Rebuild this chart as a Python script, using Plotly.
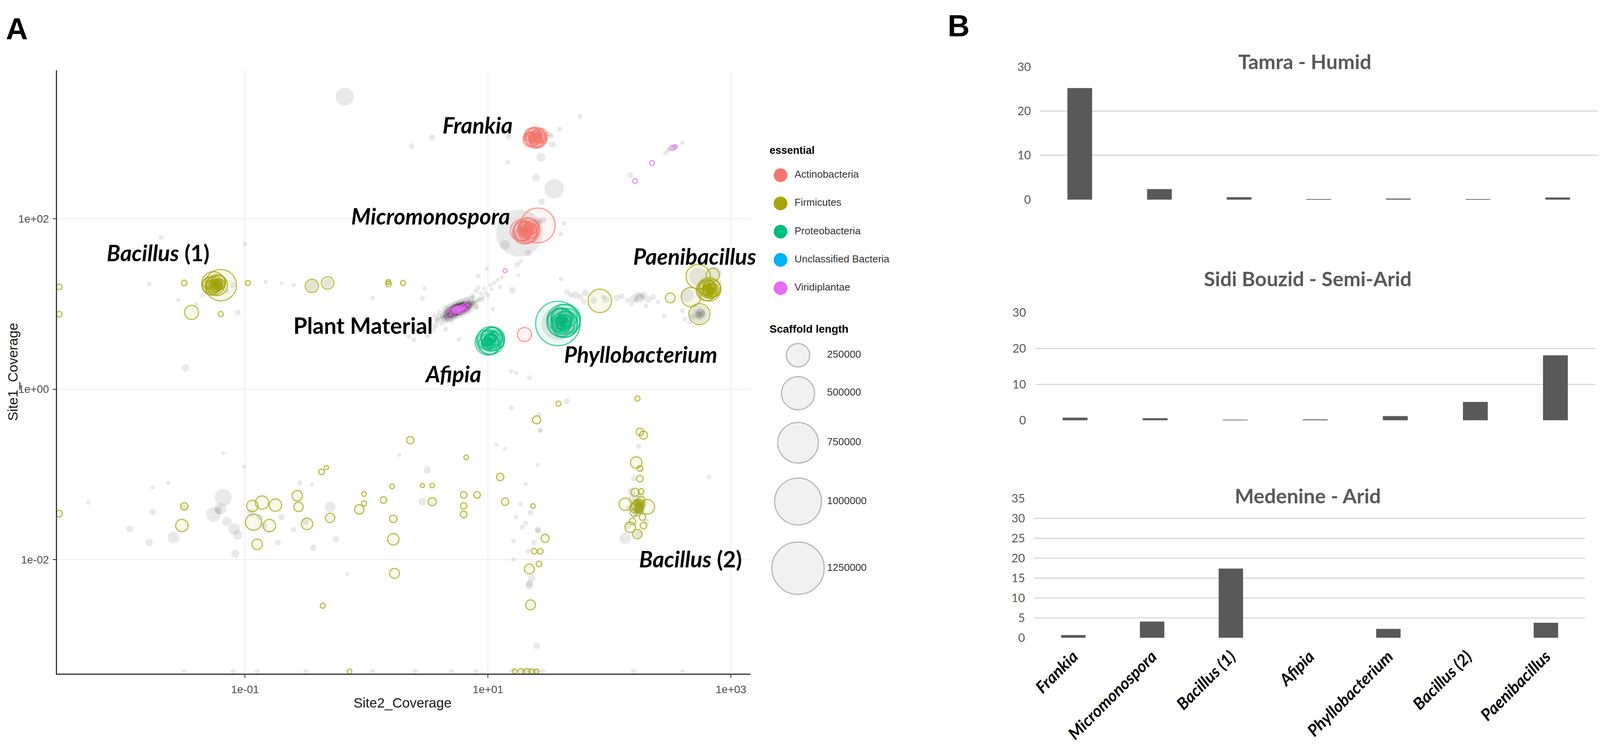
import numpy as np
import plotly.graph_objects as go

W, H = 4563, 1936

# ---- panel A: scaffolds as (log10 Site2_Coverage, log10 Site1_Coverage, scaffold length)
gray_pts = [
    (-0.18, 3.43, 150000), (1.76, 3.20, 12000), (0.54, 2.95, 20000), (0.37, 2.85, 15000),
    (1.17, 2.96, 15000), (1.16, 2.66, 12000), (1.435, 2.72, 35000), (1.53, 2.87, 20000),
    (1.59, 3.05, 12000), (1.395, 2.48, 25000), (1.545, 2.35, 170000), (1.44, 2.20, 20000),
    (2.17, 2.51, 15000), (2.46, 2.77, 10000), (2.60, 2.89, 10000),
    (1.39, 2.95, 60000), (1.40, 2.96, 40000), (1.38, 2.94, 30000), (1.41, 2.95, 20000),
    (1.45, 2.98, 25000), (1.50, 2.99, 15000), (1.40, 2.90, 100000), (1.52, 2.97, 12000),
    (1.39, 2.95, 15000), (1.40, 2.94, 10000),
    (2.50, 2.82, 15000), (2.53, 2.84, 12000), (2.55, 2.85, 10000), (2.48, 2.80, 10000),
    (1.26, 1.83, 1000000), (1.30, 1.87, 60000), (1.32, 1.86, 40000), (1.33, 1.88, 30000),
    (1.31, 1.85, 25000), (1.34, 1.87, 20000), (1.40, 1.95, 30000), (1.45, 1.98, 25000),
    (1.38, 1.93, 15000), (1.14, 1.69, 40000), (1.625, 1.95, 12000), (1.60, 1.82, 12000),
    (1.33, 1.60, 20000), (1.24, 1.46, 15000), (1.27, 1.50, 10000), (1.28, 1.88, 15000),
    (1.43, 1.97, 12000),
    (0.99, 1.41, 8000), (0.92, 1.33, 10000), (1.08, 1.28, 8000), (1.115, 1.31, 8000),
    (1.20, 1.16, 20000), (1.25, 1.335, 8000), (1.60, 1.29, 10000), (1.02, 1.22, 8000),
    (0.97, 1.18, 8000), (0.94, 1.12, 8000), (0.90, 1.15, 10000), (1.05, 1.25, 8000),
    (0.88, 1.08, 8000), (1.10, 1.20, 8000), (1.00, 1.10, 10000), (0.96, 1.08, 8000),
    (0.93, 1.06, 10000), (0.98, 1.13, 8000), (1.03, 1.17, 8000),
    (0.60, 0.85, 15000), (0.63, 0.86, 20000), (0.65, 0.88, 20000), (0.67, 0.87, 25000),
    (0.68, 0.90, 20000), (0.70, 0.89, 25000), (0.71, 0.92, 20000), (0.72, 0.90, 25000),
    (0.73, 0.94, 20000), (0.74, 0.92, 25000), (0.75, 0.95, 20000), (0.76, 0.93, 25000),
    (0.77, 0.96, 20000), (0.78, 0.94, 25000), (0.79, 0.97, 20000), (0.80, 0.95, 25000),
    (0.81, 0.98, 20000), (0.82, 0.96, 20000), (0.83, 0.99, 15000), (0.85, 0.98, 15000),
    (0.86, 1.00, 15000), (0.88, 1.01, 12000), (0.90, 1.02, 12000), (0.66, 0.91, 15000),
    (0.69, 0.86, 15000), (0.74, 0.97, 15000), (0.77, 0.91, 20000), (0.80, 1.00, 15000),
    (0.84, 0.95, 15000), (0.72, 0.96, 15000), (0.75, 0.92, 30000), (0.78, 0.96, 30000),
    (0.71, 0.89, 30000), (0.82, 0.98, 25000), (0.64, 0.84, 15000), (0.66, 0.86, 20000),
    (0.69, 0.88, 30000), (0.70, 0.91, 25000), (0.73, 0.91, 30000), (0.74, 0.94, 30000),
    (0.76, 0.96, 25000), (0.77, 0.93, 30000), (0.79, 0.95, 30000), (0.81, 0.96, 25000),
    (0.83, 0.97, 20000), (0.84, 1.00, 15000), (0.87, 0.99, 15000), (0.72, 0.92, 40000),
    (0.76, 0.94, 40000), (0.80, 0.97, 35000), (0.68, 0.89, 20000), (0.62, 0.83, 12000),
    (0.58, 0.80, 12000), (0.89, 1.03, 10000), (0.92, 1.04, 10000), (0.75, 0.90, 15000),
    (0.78, 0.99, 15000), (0.70, 0.93, 15000), (0.82, 0.94, 15000),
    (0.66, 0.88, 35000), (0.68, 0.91, 40000), (0.70, 0.90, 45000), (0.71, 0.93, 40000),
    (0.73, 0.93, 45000), (0.73, 0.90, 40000), (0.75, 0.94, 45000), (0.75, 0.97, 35000),
    (0.77, 0.94, 45000), (0.77, 0.97, 35000), (0.79, 0.94, 40000), (0.79, 0.98, 35000),
    (0.81, 0.95, 40000), (0.81, 0.99, 30000), (0.83, 0.98, 35000), (0.85, 1.00, 30000),
    (0.72, 0.88, 35000), (0.74, 0.91, 40000), (0.76, 0.92, 45000), (0.78, 0.93, 40000),
    (0.80, 0.96, 40000), (0.82, 0.97, 35000), (0.84, 0.98, 30000), (0.70, 0.87, 30000),
    (0.67, 0.85, 30000), (0.86, 1.02, 25000), (0.76, 0.97, 35000), (0.72, 0.95, 30000),
    (0.78, 0.92, 35000), (0.80, 0.98, 30000),
    (0.65, 0.83, 30000), (0.65, 0.93, 30000), (0.675, 0.84, 35000), (0.675, 0.94, 35000),
    (0.70, 0.855, 40000), (0.70, 0.96, 40000), (0.725, 0.87, 40000), (0.725, 0.975, 40000),
    (0.75, 0.885, 40000), (0.75, 0.99, 40000), (0.775, 0.90, 40000), (0.775, 1.005, 40000),
    (0.80, 0.915, 40000), (0.80, 1.02, 35000), (0.825, 0.93, 35000), (0.825, 1.035, 30000),
    (0.85, 0.945, 30000), (0.85, 1.05, 25000), (0.70, 0.908, 50000), (0.75, 0.938, 60000),
    (0.80, 0.968, 50000), (0.725, 0.92, 50000), (0.775, 0.95, 50000), (0.74, 0.93, 60000),
    (0.76, 0.945, 60000),
    (0.46, 1.065, 12000), (0.48, 1.18, 10000), (0.39, 0.58, 10000), (0.43, 0.665, 12000),
    (0.57, 0.745, 15000), (0.65, 0.705, 12000), (0.76, 0.585, 10000), (0.905, 0.97, 12000),
    (0.92, 1.19, 10000), (1.04, 0.94, 10000), (0.87, 1.09, 12000), (0.52, 0.80, 12000),
    (0.55, 0.70, 10000), (0.50, 0.62, 10000), (0.58, 0.82, 12000), (0.62, 0.78, 15000),
    (0.70, 0.80, 12000), (0.95, 1.05, 10000), (0.35, 0.62, 10000), (0.42, 0.75, 10000),
    (0.60, 0.90, 12000), (0.56, 0.86, 10000), (0.90, 0.96, 12000), (0.66, 0.80, 10000),
    (1.02, 0.57, 40000), (1.01, 0.56, 20000), (1.00, 0.55, 15000), (1.03, 0.58, 15000),
    (1.575, 0.77, 500000), (1.60, 0.78, 60000), (1.61, 0.79, 40000), (1.62, 0.80, 30000),
    (1.59, 0.77, 25000), (1.60, 0.80, 15000), (1.63, 0.81, 20000), (1.58, 0.76, 20000),
    (1.72, 1.105, 25000), (1.65, 1.14, 15000), (1.80, 1.13, 20000), (1.79, 1.025, 15000),
    (1.68, 1.10, 12000), (1.76, 1.08, 15000), (1.87, 1.04, 20000), (1.97, 1.05, 20000),
    (2.06, 1.07, 20000), (2.10, 1.09, 15000), (2.20, 1.06, 30000), (2.25, 1.07, 40000),
    (2.28, 1.10, 25000), (2.32, 1.05, 20000), (2.23, 1.11, 15000), (2.15, 1.04, 12000),
    (2.36, 1.08, 15000), (2.40, 1.02, 10000), (2.18, 1.00, 10000), (2.45, 0.86, 10000),
    (2.30, 0.98, 10000), (1.95, 1.08, 10000), (2.26, 1.08, 20000), (2.22, 1.05, 15000),
    (2.74, 0.88, 150000), (2.74, 0.88, 60000), (2.75, 0.89, 40000), (2.73, 0.87, 25000),
    (2.76, 0.89, 15000), (2.74, 0.87, 20000),
    (2.73, 1.32, 150000), (2.87, 1.36, 80000), (2.82, 1.17, 60000), (2.83, 1.16, 40000),
    (2.81, 1.18, 30000), (2.84, 1.19, 20000), (2.80, 1.20, 30000), (2.84, 1.15, 25000),
    (2.64, 1.10, 80000), (2.68, 0.85, 15000), (2.62, 0.82, 10000), (2.66, 0.78, 10000),
    (2.60, 0.92, 12000), (2.90, 1.25, 20000),
    (-1.24, 1.22, 100000), (-1.23, 1.23, 60000), (-1.25, 1.21, 40000), (-1.22, 1.22, 30000),
    (-1.26, 1.23, 25000), (-1.24, 1.24, 20000), (-1.20, 1.23, 20000),
    (-1.69, 1.78, 12000), (-1.79, 1.23, 10000), (-1.00, 1.70, 10000),
    (-1.06, 0.90, 15000), (-1.49, 0.25, 25000), (-0.83, 1.26, 8000), (0.05, 1.07, 10000),
    (-1.35, 1.10, 10000), (-1.15, 1.15, 10000), (-1.10, 1.22, 15000), (-1.55, 1.05, 8000),
    (-1.40, 1.00, 8000), (-0.70, 1.24, 8000), (-0.45, 1.21, 60000), (-0.32, 1.245, 40000),
    (0.18, 1.235, 10000), (-0.60, 1.22, 8000),
    (1.19, -0.22, 12000), (1.65, -0.14, 15000), (1.23, 0.19, 10000), (1.34, 0.135, 10000),
    (1.43, -0.48, 10000), (1.19, 0.21, 10000), (1.42, -0.30, 10000),
    (-1.95, -1.64, 20000), (-1.76, -1.44, 20000), (-1.76, -1.15, 10000), (-1.63, -1.10, 10000),
    (-2.29, -1.33, 8000), (-1.79, -1.80, 25000), (-1.59, -1.74, 60000), (-1.18, -1.27, 130000),
    (-1.26, -1.47, 100000), (-1.09, -1.64, 60000), (-1.06, -1.71, 40000), (-1.08, -1.93, 30000),
    (-0.55, -1.10, 12000), (-0.45, -1.12, 8000), (-0.30, -1.38, 50000), (-0.25, -1.76, 20000),
    (-0.44, -1.86, 20000), (-0.73, -1.80, 15000), (-1.01, -0.91, 8000), (-1.18, -0.75, 8000),
    (-0.16, -2.17, 8000), (0.27, -0.77, 8000), (0.50, -0.95, 25000), (0.46, -1.32, 30000),
    (-1.20, -1.40, 60000), (-1.15, -1.55, 40000), (-0.95, -1.45, 30000), (-0.70, -1.50, 20000),
    (-0.60, -1.65, 15000), (-0.85, -1.60, 25000), (-1.50, -1.38, 15000), (-0.50, -1.55, 25000),
    (-1.22, -1.42, 30000), (-0.88, -1.50, 20000),
    (1.41, -1.65, 20000), (1.34, -2.30, 30000), (1.21, -1.78, 10000), (1.40, -3.01, 20000),
    (1.21, -2.00, 10000), (1.31, -1.11, 8000), (1.41, -0.89, 8000), (1.43, -0.49, 8000),
    (1.14, -0.70, 8000), (1.07, -0.65, 8000), (1.23, -1.50, 10000), (1.31, -1.57, 10000),
    (1.35, -1.45, 15000), (1.28, -1.62, 12000), (1.38, -1.80, 15000), (1.36, -2.22, 25000),
    (1.33, -1.90, 10000), (1.27, -1.35, 10000), (1.34, -2.28, 20000), (1.41, -1.66, 12000),
    (2.24, -0.67, 12000), (2.13, -1.75, 60000), (2.20, -1.30, 60000), (2.25, -1.40, 40000),
    (2.22, -1.45, 30000), (2.28, -1.35, 25000), (2.18, -1.20, 30000), (2.30, -1.55, 20000),
    (2.15, -1.60, 25000), (2.26, -1.25, 20000), (2.82, -1.03, 8000), (2.20, -1.05, 15000),
    (2.27, -0.95, 10000), (2.16, -1.40, 20000), (2.24, -1.70, 25000), (2.24, -1.38, 30000),
    (2.25, -1.36, 20000), (2.23, -1.41, 15000), (2.22, -1.36, 30000), (2.24, -1.32, 25000),
    (2.26, -1.42, 25000), (2.21, -1.40, 20000), (2.23, -1.46, 25000), (2.25, -1.34, 20000),
    (2.27, -1.38, 20000),
    (-1.50, -3.31, 10000), (-1.10, -3.31, 12000), (-0.90, -3.31, 10000), (-0.50, -3.31, 10000),
    (0.05, -3.31, 10000), (0.40, -3.31, 12000), (0.70, -3.31, 10000), (0.90, -3.31, 12000),
    (1.20, -3.31, 20000), (1.30, -3.31, 25000), (1.35, -3.31, 25000), (1.40, -3.31, 20000),
    (1.45, -3.31, 15000), (2.20, -3.31, 12000), (2.60, -3.31, 10000),
]

actino_pts = [
    (1.39, 2.95, 200000), (1.37, 2.96, 150000), (1.41, 2.94, 150000), (1.35, 2.93, 100000),
    (1.43, 2.97, 100000), (1.38, 2.98, 80000), (1.40, 2.92, 80000), (1.36, 2.95, 60000),
    (1.42, 2.96, 60000), (1.39, 2.97, 50000), (1.38, 2.93, 40000), (1.40, 2.95, 40000),
    (1.34, 2.96, 30000), (1.44, 2.94, 30000), (1.37, 2.94, 25000), (1.41, 2.97, 25000),
    (1.39, 2.94, 20000), (1.36, 2.97, 15000), (1.42, 2.93, 15000), (1.39, 2.96, 10000),
    (1.41, 1.92, 550000), (1.32, 1.86, 300000), (1.30, 1.84, 250000), (1.34, 1.88, 200000),
    (1.28, 1.85, 150000), (1.33, 1.83, 150000), (1.31, 1.87, 120000), (1.35, 1.86, 100000),
    (1.29, 1.82, 100000), (1.36, 1.90, 80000), (1.30, 1.88, 80000), (1.33, 1.86, 60000),
    (1.32, 1.84, 50000), (1.34, 1.85, 40000), (1.31, 1.86, 30000), (1.37, 1.88, 30000),
    (1.30, 1.85, 25000), (1.33, 1.87, 20000), (1.35, 1.84, 15000), (1.32, 1.85, 10000),
    (1.27, 1.86, 200000),
    (1.30, 0.64, 90000),
]

firmi_pts = [
    (-1.20, 1.22, 450000), (-1.26, 1.24, 250000), (-1.23, 1.22, 200000), (-1.28, 1.21, 150000),
    (-1.25, 1.23, 120000), (-1.22, 1.25, 100000), (-1.27, 1.20, 80000), (-1.24, 1.21, 60000),
    (-1.21, 1.23, 50000), (-1.26, 1.22, 40000), (-1.23, 1.24, 30000), (-1.29, 1.23, 25000),
    (-1.22, 1.20, 20000), (-1.25, 1.25, 15000), (-1.24, 1.23, 10000), (-1.30, 1.24, 60000),
    (-1.50, 1.245, 15000), (-1.44, 0.90, 90000), (-1.20, 0.88, 12000), (-0.977, 1.245, 12000),
    (-0.45, 1.21, 80000), (-0.32, 1.245, 70000), (0.18, 1.235, 15000), (0.18, 1.26, 10000),
    (0.30, 1.245, 12000), (-2.53, 1.20, 15000), (-2.53, 0.88, 15000),
    (1.92, 1.035, 250000),
    (2.73, 1.32, 267000), (2.67, 1.08, 170000), (2.74, 0.88, 200000), (2.85, 1.34, 80000),
    (2.50, 1.07, 43000),
    (2.82, 1.17, 250000), (2.80, 1.16, 200000), (2.84, 1.18, 150000), (2.81, 1.19, 120000),
    (2.83, 1.15, 100000), (2.79, 1.18, 80000), (2.85, 1.16, 80000), (2.82, 1.20, 60000),
    (2.80, 1.14, 60000), (2.83, 1.18, 50000), (2.81, 1.16, 40000), (2.84, 1.14, 30000),
    (2.82, 1.18, 25000), (2.80, 1.19, 20000), (2.83, 1.16, 15000), (2.81, 1.17, 10000),
    (2.23, -0.11, 12000), (1.58, -0.17, 12000), (1.40, -0.36, 30000),
    (2.25, -0.50, 25000), (2.28, -0.54, 30000), (2.22, -0.86, 60000), (2.25, -0.93, 15000),
    (2.25, -1.05, 20000), (2.13, -1.35, 70000), (2.31, -1.38, 100000), (2.17, -1.62, 50000),
    (2.23, -1.70, 40000), (2.21, -1.21, 30000), (2.24, -1.40, 30000), (2.26, -1.30, 25000),
    (2.20, -1.45, 25000), (2.27, -1.50, 20000), (2.22, -1.33, 15000), (2.25, -1.42, 15000),
    (2.19, -1.55, 20000), (2.28, -1.60, 20000), (2.26, -1.20, 15000), (2.24, -1.37, 10000),
    (2.23, -1.37, 60000), (2.25, -1.35, 40000), (2.21, -1.39, 50000),
    (-1.50, -1.375, 25000), (-1.52, -1.60, 70000), (-0.94, -1.37, 60000), (-0.86, -1.33, 80000),
    (-0.75, -1.36, 70000), (-0.93, -1.56, 120000), (-0.80, -1.60, 70000), (-0.90, -1.82, 50000),
    (-0.57, -1.25, 50000), (-0.56, -1.38, 40000), (-0.49, -1.58, 60000), (-0.30, -1.51, 40000),
    (-0.37, -0.97, 15000), (-0.33, -0.92, 8000), (-0.06, -1.41, 40000), (-0.02, -1.23, 10000),
    (-0.02, -1.34, 12000), (0.14, -1.30, 20000), (0.21, -1.14, 10000), (0.22, -1.52, 25000),
    (0.22, -1.76, 60000), (0.23, -2.16, 45000), (0.36, -0.60, 25000), (0.46, -1.13, 8000),
    (0.54, -1.13, 10000), (0.54, -1.32, 30000), (0.82, -0.80, 10000), (0.80, -1.24, 20000),
    (0.80, -1.37, 20000), (0.80, -1.47, 20000), (0.91, -1.24, 20000), (1.10, -1.03, 25000),
    (1.14, -1.32, 25000), (-0.36, -2.54, 12000), (-2.53, -1.46, 20000),
    (1.37, -1.37, 10000), (1.47, -1.75, 30000), (1.38, -1.90, 15000), (1.43, -1.90, 15000),
    (1.42, -2.05, 15000), (1.34, -2.11, 45000), (1.35, -2.53, 45000),
    (1.22, -3.31, 10000), (1.27, -3.31, 12000), (1.32, -3.31, 15000), (1.36, -3.31, 12000),
    (1.40, -3.31, 10000), (-0.14, -3.31, 10000),
]

proteo_pts = [
    (1.02, 0.57, 350000), (1.00, 0.55, 300000), (1.04, 0.59, 250000), (1.01, 0.53, 200000),
    (1.03, 0.60, 200000), (0.99, 0.57, 150000), (1.05, 0.56, 150000), (1.02, 0.54, 120000),
    (1.00, 0.60, 100000), (1.03, 0.57, 80000), (0.99, 0.53, 60000), (1.01, 0.58, 50000),
    (1.04, 0.62, 40000), (1.00, 0.56, 30000), (1.02, 0.55, 20000), (1.01, 0.57, 15000),
    (0.98, 0.55, 25000), (1.06, 0.60, 100000),
    (1.575, 0.77, 900000), (1.62, 0.80, 500000), (1.64, 0.82, 400000), (1.60, 0.78, 350000),
    (1.63, 0.76, 300000), (1.59, 0.81, 250000), (1.61, 0.83, 200000), (1.65, 0.79, 200000),
    (1.60, 0.75, 150000), (1.62, 0.78, 120000), (1.58, 0.79, 100000), (1.63, 0.80, 80000),
    (1.61, 0.77, 60000), (1.64, 0.76, 50000), (1.60, 0.80, 40000), (1.62, 0.82, 30000),
    (1.66, 0.84, 150000), (1.57, 0.74, 60000),
]

unclass_pts = []

viridi_pts = [
    (0.69, 0.90, 15000), (0.71, 0.89, 12000), (0.73, 0.92, 15000), (0.75, 0.93, 20000),
    (0.77, 0.95, 15000), (0.79, 0.96, 12000), (0.81, 0.97, 15000), (0.83, 0.96, 12000),
    (0.74, 0.95, 10000), (0.76, 0.91, 10000), (0.72, 0.94, 8000), (0.80, 0.93, 10000),
    (0.75, 0.935, 8000), (0.74, 0.93, 12000), (0.76, 0.94, 12000), (0.78, 0.95, 10000),
    (0.67, 0.88, 12000), (0.70, 0.92, 10000), (0.82, 0.99, 10000), (0.78, 0.92, 12000),
    (1.14, 1.39, 8000), (2.21, 2.44, 10000), (2.35, 2.65, 12000), (2.52, 2.83, 12000),
    (2.54, 2.84, 8000),
]

phyla = ["Actinobacteria", "Firmicutes", "Proteobacteria", "Unclassified Bacteria", "Viridiplantae"]
phylum_colors = ["#F8766D", "#A3A500", "#00BF7D", "#00B0F6", "#E76BF3"]
phylum_pts = [actino_pts, firmi_pts, proteo_pts, unclass_pts, viridi_pts]
size_breaks = [250000, 500000, 750000, 1000000, 1250000]

# ---- panel B
genera = ["Frankia", "Micromonospora", "Bacillus (1)", "Afipia",
          "Phyllobacterium", "Bacillus (2)", "Paenibacillus"]
tamra = [25.2, 2.4, 0.56, 0.15, 0.25, 0.15, 0.5]
sidi = [0.76, 0.6, 0.08, 0.27, 1.18, 5.14, 18.1]
medenine = [0.72, 4.1, 17.4, 0, 2.26, 0, 3.8]

# plotly area sizing: diameter = 2 * sqrt(size / 2 / sizeref); 250000 bp -> 60 px
SIZEREF = 2 * 250000 / 60 ** 2


def unpack(pts):
    if not pts:
        return [], [], []
    xs, ys, ls = zip(*pts)
    return 10 ** np.array(xs), 10 ** np.array(ys), list(ls)


def tint(hex_col, a):
    h = hex_col.lstrip("#")
    r, g, b = int(h[0:2], 16), int(h[2:4], 16), int(h[4:6], 16)
    return f"rgba({r},{g},{b},{a})"


fig = go.Figure()

gx, gy, gl = unpack(gray_pts)
fig.add_trace(go.Scatter(x=gx, y=gy, mode="markers", xaxis="x", yaxis="y", showlegend=False,
                         marker=dict(size=gl, sizemode="area", sizeref=SIZEREF,
                                     color="rgba(30,30,30,0.14)", line=dict(width=0))))

for name, col, pts in zip(phyla, phylum_colors, phylum_pts):
    px_, py_, pl_ = unpack(pts)
    fig.add_trace(go.Scatter(x=px_, y=py_, mode="markers", xaxis="x", yaxis="y", name=name,
                             showlegend=False,
                             marker=dict(size=pl_, sizemode="area", sizeref=SIZEREF,
                                         color=tint(col, 0.10),
                                         line=dict(width=3, color=col))))

# ---- hand-built legends on an overlay axis measured in figure pixels
leg_x, leg_top, leg_step = 2222, 437, 73.7
leg_y = [leg_top + i * leg_step for i in range(len(phyla))]
fig.add_trace(go.Scatter(x=[leg_x] * len(phyla), y=leg_y, mode="markers", xaxis="x5", yaxis="y5",
                         showlegend=False, marker=dict(size=35, color=phylum_colors)))
fig.add_trace(go.Scatter(x=[leg_x + 40] * len(phyla), y=leg_y, mode="text", text=phyla,
                         textposition="middle right", xaxis="x5", yaxis="y5", showlegend=False,
                         textfont=dict(family="Liberation Sans", size=26, color="#333333")))

diam = [2 * np.sqrt(b / 2 / SIZEREF) for b in size_breaks]
key_h = [1.37 * d for d in diam]
size_y = [907.0]
for i in range(1, len(size_breaks)):
    size_y.append(size_y[-1] + (key_h[i - 1] + key_h[i]) / 2)
fig.add_trace(go.Scatter(x=[2272] * len(size_breaks), y=size_y, mode="markers", xaxis="x5", yaxis="y5",
                         showlegend=False,
                         marker=dict(size=size_breaks, sizemode="area", sizeref=SIZEREF,
                                     color="rgba(200,200,200,0.35)",
                                     line=dict(width=3, color="#9a9a9a"))))
fig.add_trace(go.Scatter(x=[2355] * len(size_breaks), y=size_y, mode="text",
                         text=[str(b) for b in size_breaks], textposition="middle right",
                         xaxis="x5", yaxis="y5", showlegend=False,
                         textfont=dict(family="Liberation Sans", size=26, color="#333333")))

# ---- panel B bars
for vals, xa, ya in [(tamra, "x2", "y2"), (sidi, "x3", "y3"), (medenine, "x4", "y4")]:
    fig.add_trace(go.Bar(x=genera, y=vals, xaxis=xa, yaxis=ya, width=0.31, showlegend=False,
                         marker=dict(color="#595959", line=dict(width=0))))

axis_font = dict(family="Liberation Sans", size=28, color="#4d4d4d")
bar_tick_font = dict(family="Lato", size=30, color="#595959")

fig.update_layout(
    width=W, height=H, margin=dict(l=0, r=0, t=0, b=0),
    paper_bgcolor="white", plot_bgcolor="rgba(0,0,0,0)",
    xaxis=dict(type="log", domain=[155 / W, 2136 / W], range=[-2.548, 3.16], anchor="y",
               tickvals=[0.1, 10, 1000], ticktext=["1e-01", "1e+01", "1e+03"],
               showgrid=True, gridcolor="#ececec", gridwidth=2, zeroline=False,
               showline=True, linecolor="#333333", linewidth=3,
               ticks="outside", ticklen=8, tickwidth=2, tickcolor="#333333",
               tickfont=axis_font, ticklabelstandoff=6),
    yaxis=dict(type="log", domain=[1 - 1738 / H, 1 - 163 / H], range=[-3.335, 3.74], anchor="x",
               tickvals=[0.01, 1, 100], ticktext=["1e-02", "1e+00", "1e+02"],
               showgrid=True, gridcolor="#ececec", gridwidth=2, zeroline=False,
               showline=True, linecolor="#333333", linewidth=3,
               ticks="outside", ticklen=8, tickwidth=2, tickcolor="#333333",
               tickfont=axis_font, ticklabelstandoff=4),
    xaxis5=dict(domain=[0, 1], range=[0, W], visible=False, anchor="y5"),
    yaxis5=dict(domain=[0, 1], range=[H, 0], visible=False, anchor="x5"),
)

bar_axes = [
    ("xaxis2", "yaxis2", "y2", "x2", [2963, 4556], [501, 154], 30, 10, False),
    ("xaxis3", "yaxis3", "y3", "x3", [2949, 4550], [1077, 796], 30, 10, False),
    ("xaxis4", "yaxis4", "y4", "x4", [2946, 4521], [1645, 1281], 35, 5, True),
]
for xk, yk, yanc, xanc, xdom, ydom, ymax, dt, labels in bar_axes:
    fig.update_layout({
        xk: dict(domain=[xdom[0] / W, xdom[1] / W], anchor=yanc, type="category",
                 showticklabels=labels, ticks="", showline=False, showgrid=False,
                 tickangle=-45, ticklabelstandoff=14,
                 tickfont=dict(family="Lato", size=42, color="black", weight="bold", style="italic")),
        yk: dict(domain=[1 - ydom[0] / H, 1 - ydom[1] / H], anchor=xanc, range=[0, ymax], dtick=dt,
                 showgrid=True, gridcolor="#d9d9d9", gridwidth=3, zeroline=False,
                 showline=False, ticks="", tickfont=bar_tick_font, ticklabelstandoff=22),
    })

label_font = dict(family="Lato", size=57, color="black", weight="bold")
taxon_labels = [
    ("<i>Frankia</i>", 1.21, 3.10, "right"),
    ("<i>Micromonospora</i>", 1.19, 2.03, "right"),
    ("<i>Bacillus</i> (1)", -1.715, 1.60, "center"),
    ("Plant Material", 0.553, 0.75, "right"),
    ("<i>Afipia</i>", 0.71, 0.18, "center"),
    ("<i>Phyllobacterium</i>", 1.62, 0.41, "left"),
    ("<i>Paenibacillus</i>", 2.19, 1.56, "left"),
    ("<i>Bacillus</i> (2)", 2.236, -1.99, "left"),
]
for txt, lx, ly, anc in taxon_labels:
    fig.add_annotation(x=lx, y=ly, xref="x", yref="y", text=txt, showarrow=False,
                       xanchor=anc, yanchor="middle", font=label_font)

paper_texts = [
    ("A", 40 / W, 1 - 55 / H, "center", dict(family="Liberation Sans", size=78, color="black", weight="bold"), None, 0),
    ("B", 2731 / W, 1 - 47 / H, "center", dict(family="Liberation Sans", size=78, color="black", weight="bold"), None, 0),
    ("Site2_Coverage", 1142 / W, 1 - 1814 / H, "center", dict(family="Liberation Sans", size=35, color="#1a1a1a"), None, 0),
    ("Site1_Coverage", 29 / W, 1 - 950 / H, "center", dict(family="Liberation Sans", size=35, color="#1a1a1a"), None, -90),
    ("essential", 2187 / W, 1 - 372 / H, "left", dict(family="Liberation Sans", size=27, color="black", weight="bold"), None, 0),
    ("Scaffold length", 2187 / W, 1 - 839 / H, "left", dict(family="Liberation Sans", size=28, color="black", weight="bold"), None, 0),
    ("Tamra - Humid", 3720 / W, 1 - 140 / H, "center", dict(family="Lato", size=52, color="#595959", weight="bold"), "white", 0),
    ("Sidi Bouzid - Semi-Arid", 3728 / W, 1 - 706 / H, "center", dict(family="Lato", size=52, color="#595959", weight="bold"), "white", 0),
    ("Medenine - Arid", 3728 / W, 1 - 1273 / H, "center", dict(family="Lato", size=52, color="#595959", weight="bold"), "white", 0),
]
for txt, ax_, ay_, anc, fnt, bg, ang in paper_texts:
    fig.add_annotation(x=ax_, y=ay_, xref="paper", yref="paper", text=txt, showarrow=False,
                       xanchor=anc, yanchor="middle", font=fnt, textangle=ang,
                       bgcolor=bg if bg else "rgba(0,0,0,0)", borderpad=2)

# fit the figure to the browser viewport (no body margin, no scrollbars)
fit_js = (
    "var gd = document.getElementById('{plot_id}');"
    "document.documentElement.style.margin = '0'; document.body.style.margin = '0';"
    "document.body.style.overflow = 'hidden';"
    "gd.style.width = window.innerWidth + 'px'; gd.style.height = window.innerHeight + 'px';"
    "Plotly.relayout(gd, {width: window.innerWidth, height: window.innerHeight});"
)
fig.write_html("out.html", post_script=fit_js, config={"displayModeBar": False})
